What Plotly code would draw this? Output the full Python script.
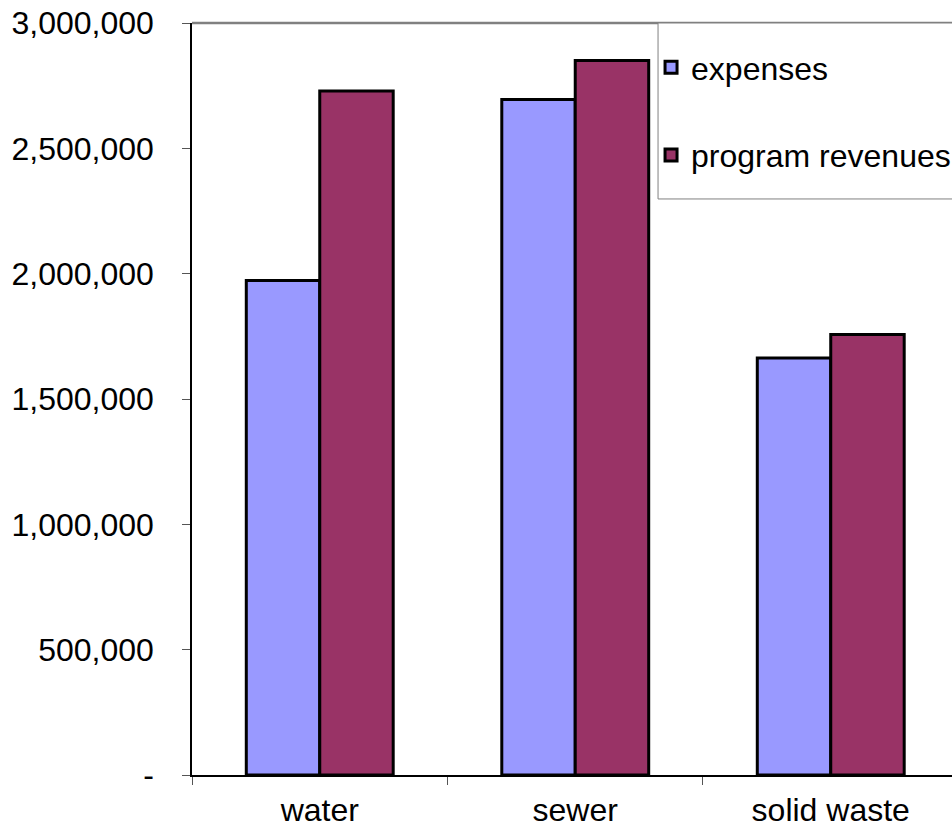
import plotly.graph_objects as go

# Utility departments and their annual totals
categories = ["water", "sewer", "solid waste"]
expenses = [1_973_000, 2_695_000, 1_664_000]
program_revenues = [2_729_000, 2_850_000, 1_757_000]

y_tick_values = [0, 500_000, 1_000_000, 1_500_000, 2_000_000, 2_500_000, 3_000_000]
y_tick_labels = ["-", "500,000", "1,000,000", "1,500,000", "2,000,000", "2,500,000", "3,000,000"]

FONT = "Liberation Sans, Arial, Helvetica, sans-serif"

fig = go.Figure()
fig.add_trace(go.Bar(
    name="expenses", x=categories, y=expenses, legendgroup="a",
    marker=dict(color="#9999FF", line=dict(color="black", width=3)),
))
fig.add_trace(go.Bar(
    name="program revenues", x=categories, y=program_revenues, legendgroup="b",
    marker=dict(color="#993366", line=dict(color="black", width=3)),
))

# grey frame along the top of the plot area
fig.add_shape(type="line", xref="paper", yref="paper", x0=0, x1=1.02, y0=1, y1=1,
              line=dict(color="#808080", width=2.5))
# legend box, running off the right edge
fig.add_shape(type="rect", xref="paper", yref="paper", x0=0.6132, x1=1.05, y0=0.766, y1=1,
              line=dict(color="#808080", width=1), fillcolor="white", layer="above")

fig.update_layout(
    width=952, height=827,
    margin=dict(l=192, r=0, t=23, b=52, autoexpand=False),
    paper_bgcolor="white", plot_bgcolor="white",
    font=dict(family=FONT, size=32, color="black"),
    barmode="group", bargap=0.425, bargroupgap=0,
    showlegend=True,
    legend=dict(
        x=0.604, y=0.9774, xanchor="left", yanchor="top",
        bgcolor="rgba(0,0,0,0)", borderwidth=0,
        font=dict(family=FONT, size=32, color="black"),
        traceorder="grouped", tracegroupgap=43,
    ),
    xaxis=dict(
        type="category", range=[-0.5, 2.4746],
        showline=True, linecolor="black", linewidth=1.5,
        ticks="outside", tickson="boundaries", ticklen=8, tickcolor="#555555",
        ticklabelstandoff=6,
        showgrid=False, zeroline=False,
        tickfont=dict(family=FONT, size=32, color="black"),
    ),
    yaxis=dict(
        range=[0, 3_000_000],
        tickvals=y_tick_values, ticktext=y_tick_labels,
        showline=True, linecolor="black", linewidth=1.5,
        ticks="outside", ticklen=8, tickcolor="#555555",
        ticklabelstandoff=22,
        showgrid=False, zeroline=False,
        tickfont=dict(family=FONT, size=32, color="black"),
    ),
)

fig.write_html("out.html")
